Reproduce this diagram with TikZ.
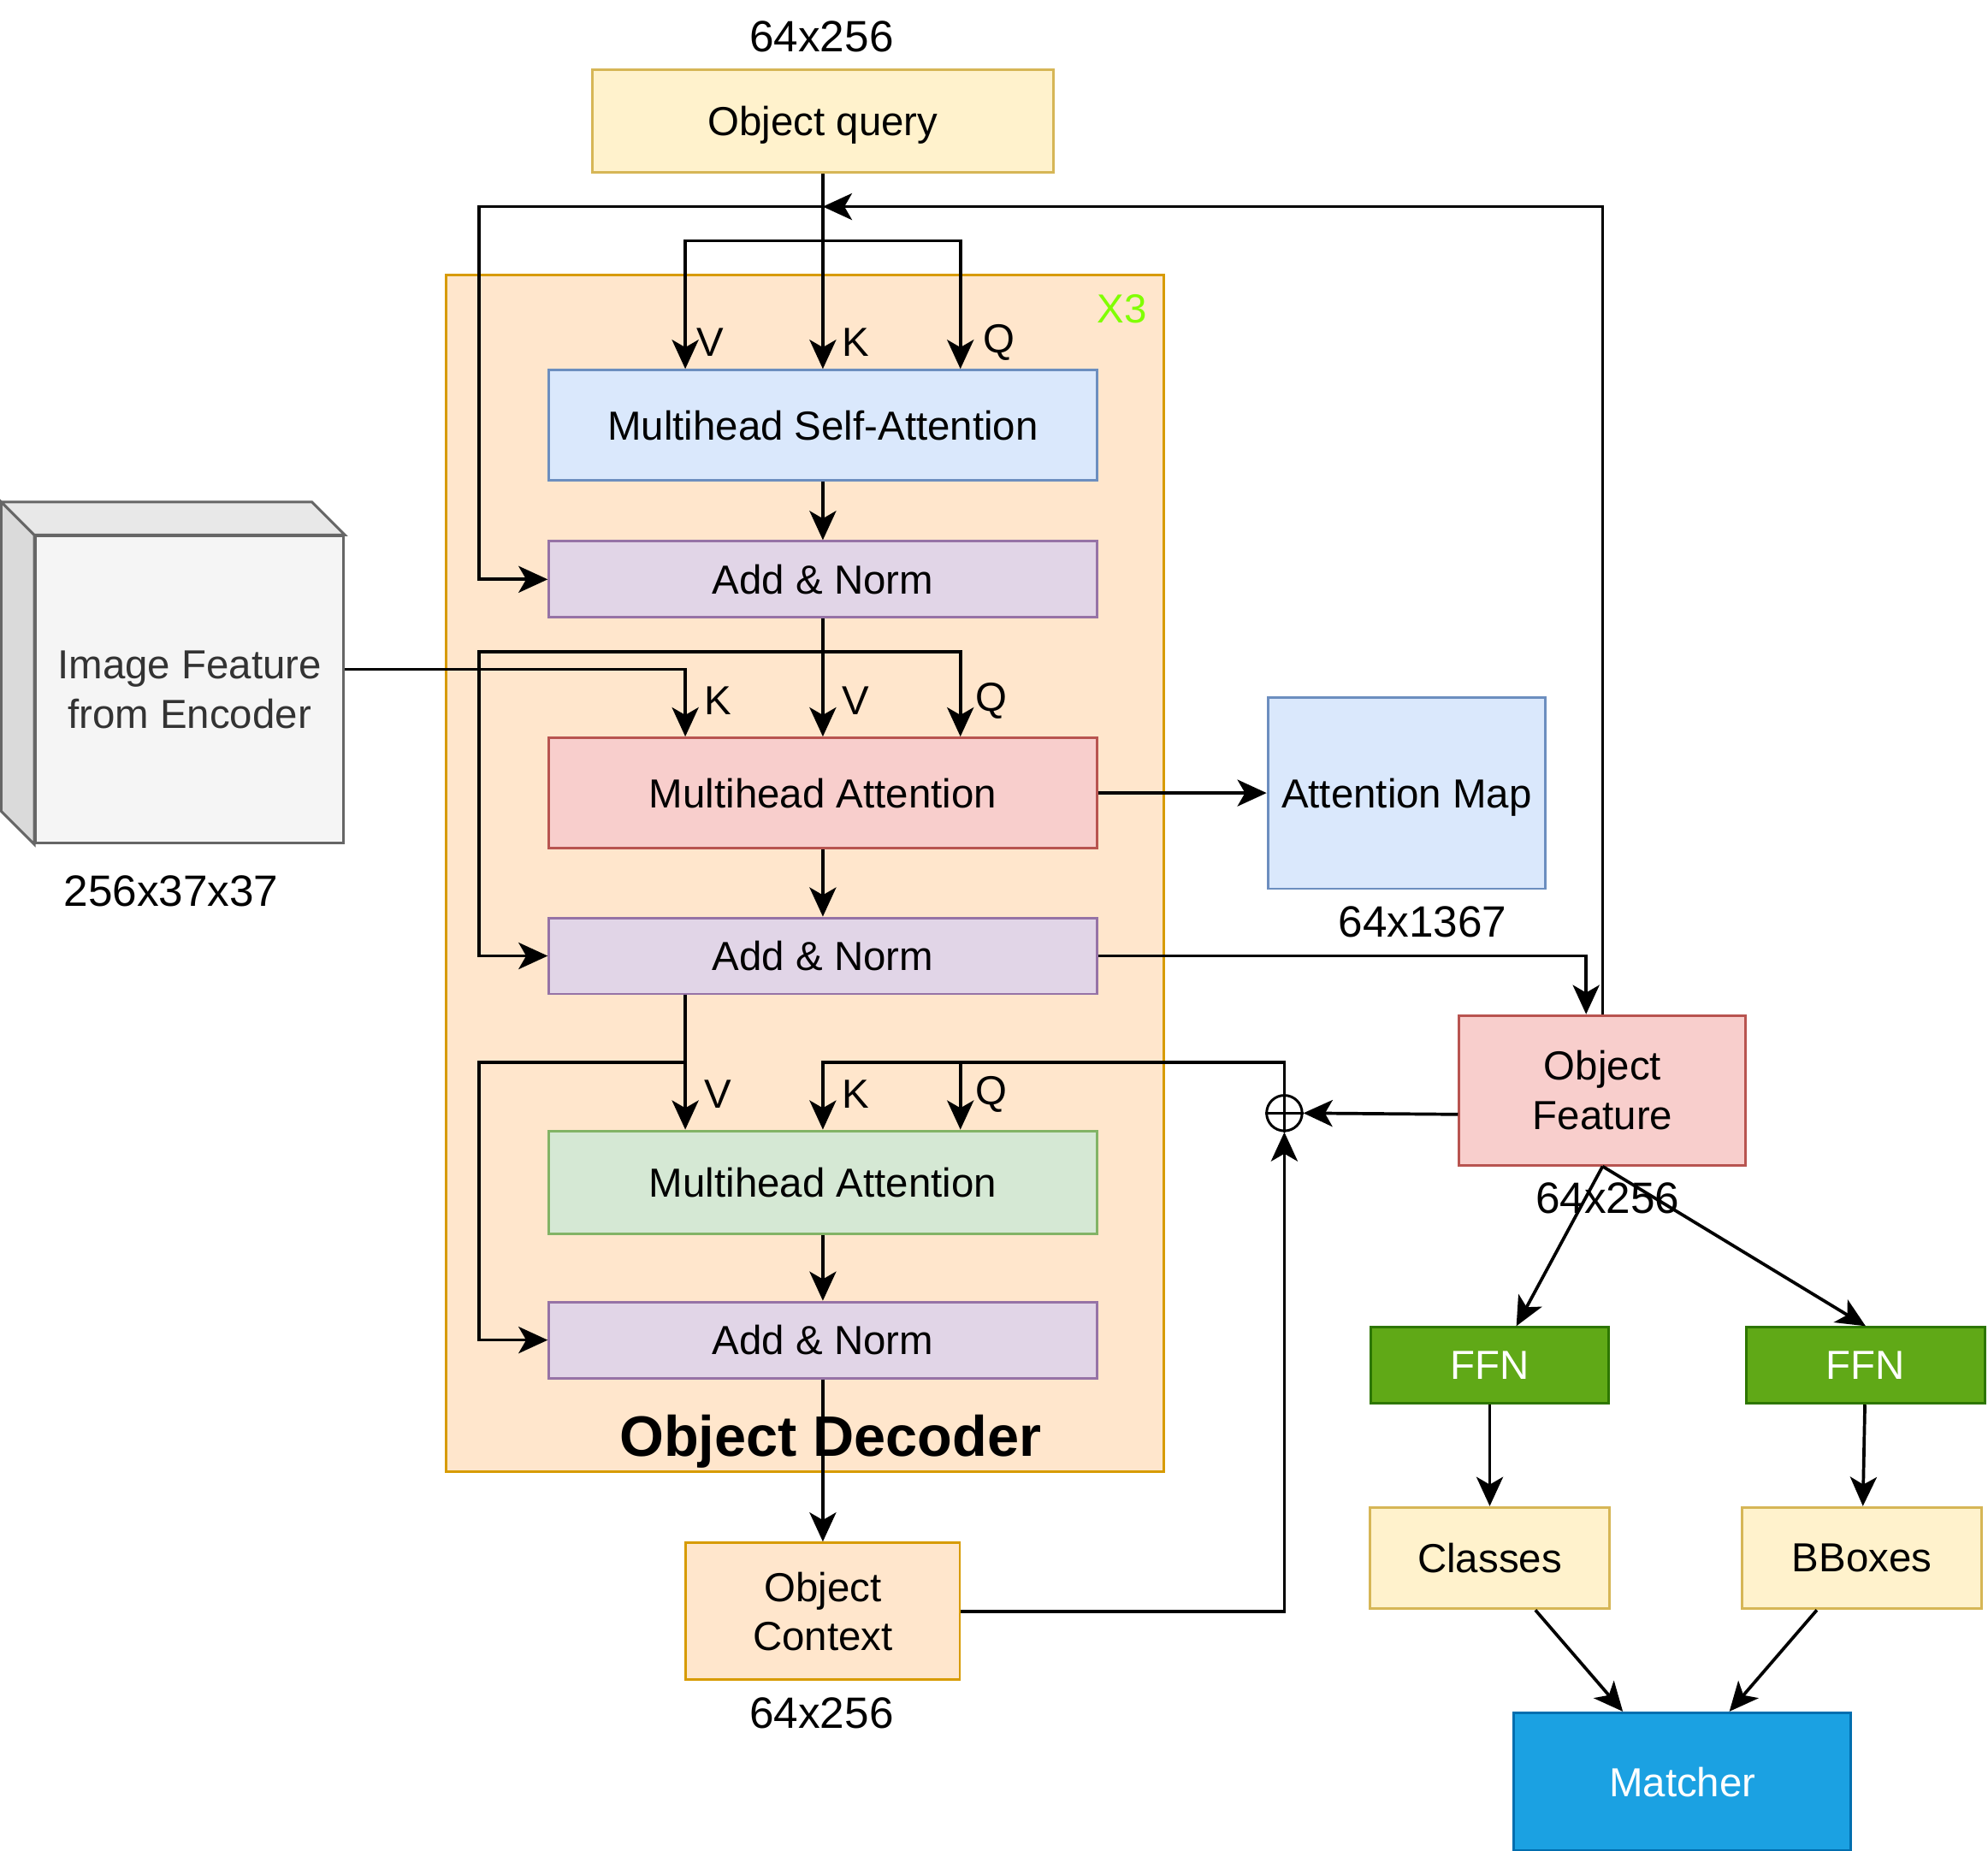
\documentclass[tikz,border=0pt]{standalone}
\usepackage{fontspec}
\setmainfont{Liberation Sans}
\usepackage{tikz}
\usetikzlibrary{arrows.meta,calc,positioning}
\definecolor{yelfill}{HTML}{FFF2CC}
\definecolor{yelline}{HTML}{D6B656}
\definecolor{orfill}{HTML}{FFE6CC}
\definecolor{orline}{HTML}{D79B00}
\definecolor{bluefill}{HTML}{DAE8FC}
\definecolor{blueline}{HTML}{6C8EBF}
\definecolor{purfill}{HTML}{E1D5E7}
\definecolor{purline}{HTML}{9673A6}
\definecolor{redfill}{HTML}{F8CECC}
\definecolor{redline}{HTML}{B85450}
\definecolor{grnfill}{HTML}{D5E8D4}
\definecolor{grnline}{HTML}{82B366}
\definecolor{ffnfill}{HTML}{60A917}
\definecolor{ffnline}{HTML}{2D7600}
\definecolor{matfill}{HTML}{1BA1E2}
\definecolor{matline}{HTML}{006EAF}
\definecolor{cubefront}{HTML}{F5F5F5}
\definecolor{cubetop}{HTML}{E8E8E8}
\definecolor{cubeside}{HTML}{DADADA}
\definecolor{cubeline}{HTML}{666666}
\definecolor{cubetext}{HTML}{333333}
\definecolor{repgreen}{HTML}{80FF00}
\tikzset{
  txt/.style = {font=\fontsize{16}{19.5}\selectfont},
  lbl/.style = {txt, inner sep=0pt},
  sizelbl/.style = {lbl, font=\fontsize{17.3}{20}\selectfont},
  box/.style = {txt, rectangle, draw, line width=1pt, inner sep=0pt, align=center, text depth=0pt},
  querybox/.style = {box, fill=yelfill, draw=yelline},
  decbox/.style = {box, fill=orfill, draw=orline, minimum width=283pt, minimum height=472pt},
  selfbox/.style = {box, fill=bluefill, draw=blueline, minimum width=216pt, minimum height=43.5pt},
  normbox/.style = {box, fill=purfill, draw=purline, minimum width=216pt, minimum height=30pt},
  crossbox/.style = {box, fill=redfill, draw=redline, minimum width=216pt, minimum height=43.5pt},
  ctxattbox/.style = {box, fill=grnfill, draw=grnline, minimum width=216pt, minimum height=40.5pt},
  ffnbox/.style = {box, fill=ffnfill, draw=ffnline, text=white, minimum width=94pt, minimum height=30pt},
  outbox/.style = {box, fill=yelfill, draw=yelline, minimum width=94.5pt, minimum height=40pt},
  cubebox/.style = {box, fill=cubefront, draw=cubeline, text=cubetext, minimum width=121.5pt, minimum height=121pt},
  sumnode/.style = {circle, draw, line width=1pt, minimum size=14pt, inner sep=0pt},
}

\begin{document}
\begin{tikzpicture}[x=0.5pt,y=-0.5pt,line width=1.25pt,
  >={Stealth[length=11.5pt,width=10.5pt,inset=3pt]}]
  \useasboundingbox (0,0) rectangle (1568,1460);
  % decoder block
  \node[decbox] (dec) at (635,689) {};
  \node[lbl, text=repgreen] (rep) at (885,244) {X3};
  \node[lbl, font=\bfseries\fontsize{22.5}{26}\selectfont] (dtitle) at (655,1137) {Object Decoder};

  \node[querybox, minimum width=182pt, minimum height=40.5pt] (query) at (649,95.5) {Object query};
  \node[sizelbl] (qsize) at (648,29) {64x256};
  \node[selfbox] (msa) at (649,335.5) {Multihead Self-Attention};
  \node[normbox] (an1) at (649,457) {Add \& Norm};
  \node[crossbox] (mha) at (649,625.5) {Multihead Attention};
  \node[normbox] (an2) at (649,754) {Add \& Norm};
  \node[ctxattbox] (mhb) at (649,932.5) {Multihead Attention};
  \node[normbox] (an3) at (649,1057) {Add \& Norm};
  \node[box, fill=orfill, draw=orline, minimum width=108pt, minimum height=54pt] (ctx) at (649,1271) {Object\\Context};
  \node[sizelbl] (csize) at (648,1351) {64x256};

  % encoder feature cube
  \node[cubebox] (img) at (149.5,544) {Image Feature\\from Encoder};
  \filldraw[fill=cubetop, draw=cubeline, line width=1pt] (img.north west) -- ++(-13pt,13pt)
    -- ([shift={(-13pt,13pt)}]img.north east) -- (img.north east) -- cycle;
  \filldraw[fill=cubeside, draw=cubeline, line width=1pt] (img.north west) -- ++(-13pt,13pt)
    -- ([shift={(-13pt,13pt)}]img.south west) -- (img.south west) -- cycle;
  \node[sizelbl] (isize) at (135,703) {256x37x37};

  \node[box, fill=bluefill, draw=blueline, minimum width=109.5pt, minimum height=75.5pt] (attmap) at (1109.5,625.5) {Attention Map};
  \node[sizelbl] (asize) at (1122,727) {64x1367};
  \node[box, fill=redfill, draw=redline, minimum width=113pt, minimum height=59pt] (feat) at (1264,860) {Object\\Feature};
  \node[sizelbl] (fsize) at (1268,945) {64x256};
  \node[sumnode] (sum) at (1013,878) {};
  \draw[line width=1pt] (sum.north) -- (sum.south) (sum.west) -- (sum.east);

  \node[ffnbox] (ffn1) at (1175,1077) {FFN};
  \node[ffnbox] (ffn2) at (1471.5,1077) {FFN};
  \node[outbox] (cls) at (1175,1229) {Classes};
  \node[outbox] (bbox) at (1468.5,1229) {BBoxes};
  \node[box, fill=matfill, draw=matline, text=white, minimum width=133pt, minimum height=54.5pt] (match) at (1327,1405.5) {Matcher};

  % ports on top of the attention blocks
  \coordinate (msaV) at ($(msa.north west)!.25!(msa.north east)$);
  \coordinate (msaQ) at ($(msa.north west)!.75!(msa.north east)$);
  \coordinate (mhaK) at ($(mha.north west)!.25!(mha.north east)$);
  \coordinate (mhaQ) at ($(mha.north west)!.75!(mha.north east)$);
  \coordinate (an2V) at ($(an2.south west)!.25!(an2.south east)$);
  \coordinate (mhbV) at ($(mhb.north west)!.25!(mhb.north east)$);
  \coordinate (mhbQ) at ($(mhb.north west)!.75!(mhb.north east)$);
  \coordinate (res1) at (649,163);
  \coordinate (split1) at (649,190);
  \coordinate (split2) at (649,514);
  \coordinate (split3) at (541,838);
  \coordinate (top4) at (1013,838);

  %   self attention
  \draw[->] (query.south) -- (msa.north);
  \draw[->] (split1) -| (msaV);
  \draw[->] (split1) -| (msaQ);
  \draw[->] (res1) -| ([xshift=-27pt]an1.west) -- (an1.west);
  \draw[->] (feat.north) |- (res1);
  \draw[->] (msa) -- (an1);
  \node[lbl] (lv1) at (560,270) {V};
  \node[lbl] (lk1) at (675,270) {K};
  \node[lbl] (lq1) at (788,270) {Q};
  %   cross attention
  \draw[->] (an1) -- (mha);
  \draw[->] (split2) -| (mhaQ);
  \draw[->] (split2) -| ([xshift=-27pt]an2.west) -- (an2.west);
  \draw[->] ([yshift=8pt]img.east) -| (mhaK);
  \draw[->] (mha) -- (attmap);
  \draw[->] (mha) -- (an2);
  \draw[->] (an2.east) -| ([xshift=-6.5pt]feat.north);
  \node[lbl] (lk2) at (566,553) {K};
  \node[lbl] (lv2) at (675,553) {V};
  \node[lbl] (lq2) at (782,553) {Q};
  %   context attention
  \draw[->] (an2V) -- (mhbV);
  \draw[->] (split3) -| ([xshift=-27pt]an3.west) -- (an3.west);
  \draw[->] (sum.north) -- (top4) -| (mhb.north);
  \draw[->] (mhbQ |- top4) -- (mhbQ);
  \draw[->] ([yshift=-9.5pt]feat.west) -- (sum.east);
  \draw[->] (ctx.east) -| (sum.south);
  \draw[->] (mhb) -- (an3);
  \draw[->] (an3) -- (ctx);
  \node[lbl] (lv3) at (566,863) {V};
  \node[lbl] (lk3) at (675,863) {K};
  \node[lbl] (lq3) at (782,863) {Q};
  %   heads
  \draw[->] (feat.south) -- ([xshift=10.5pt]ffn1.north);
  \draw[->] (feat.south) -- (ffn2.north);
  \draw[->] (ffn1) -- (cls);
  \draw[->] (ffn2) -- (bbox);
  \draw[->] ([xshift=18pt]cls.south) -- ([xshift=-23.5pt]match.north);
  \draw[->] ([xshift=-17.75pt]bbox.south) -- ([xshift=18.5pt]match.north);
\end{tikzpicture}
\end{document}
